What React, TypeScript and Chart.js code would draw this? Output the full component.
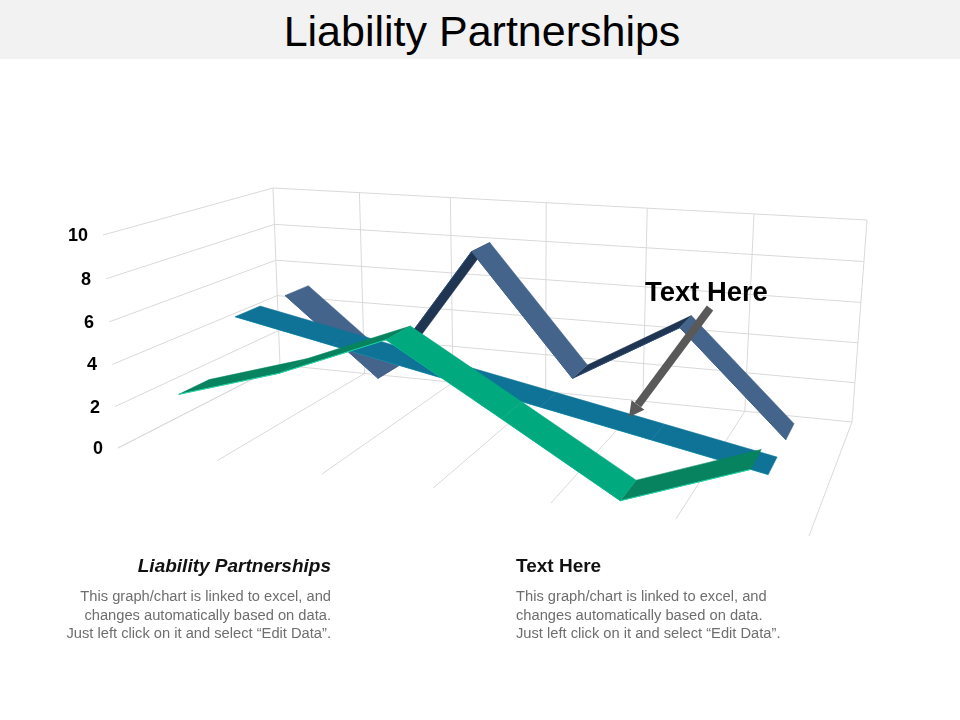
import React, { useEffect, useRef } from 'react';
import { Chart, registerables } from 'chart.js';

Chart.register(...registerables);

const categories = ['1', '2', '3', '4', '5', '6'];
const valueTicks = [0, 2, 4, 6, 8, 10];
const slateValues = [5, 1, 8, 2, 5, 0];
const tealValues = [5, 4, 3, 2, 1, 0];
const greenValues = [2.5, 4, 6, 3, 0, 2];

// box corners on the page: front-left, front-right, back-right, back-left
const floorCorners = [[118, 448], [809, 536], [852, 422], [280, 365]];
const topCorners = [[103, 235], [833, 287], [867, 220], [273, 188]];

const makeHomography = (q: number[][]) => {
  const [[x0, y0], [x1, y1], [x2, y2], [x3, y3]] = q;
  const dx1 = x1 - x2, dx2 = x3 - x2, sx = x0 - x1 + x2 - x3;
  const dy1 = y1 - y2, dy2 = y3 - y2, sy = y0 - y1 + y2 - y3;
  const den = dx1 * dy2 - dx2 * dy1;
  const g = (sx * dy2 - dx2 * sy) / den;
  const h = (dx1 * sy - sx * dy1) / den;
  const a = x1 - x0 + g * x1, b = x3 - x0 + h * x3;
  const d = y1 - y0 + g * y1, e = y3 - y0 + h * y3;
  return (u: number, v: number) => {
    const z = g * u + h * v + 1;
    return { x: (a * u + b * v + x0) / z, y: (d * u + e * v + y0) / z };
  };
};

const floorMap = makeHomography(floorCorners);
const topMap = makeHomography(topCorners);

const project = (u: number, v: number, value: number) => {
  const lo = floorMap(u, v);
  const hi = topMap(u, v);
  const r = value / 10;
  // slight perspective on the height too
  const t = (r * (1 - 0.033)) / (1 - 0.033 * r);
  return { x: lo.x + (hi.x - lo.x) * t, y: lo.y + (hi.y - lo.y) * t };
};

const gridLine = (a: number[], b: number[]) => ({
  type: 'scatter' as const,
  data: [project(a[0], a[1], a[2]), project(b[0], b[1], b[2])],
  showLine: true,
  borderColor: '#d9d9d9',
  borderWidth: 1,
  pointRadius: 0,
});

const buildGrid = () => {
  const lines: any[] = [];
  valueTicks.forEach((t) => {
    lines.push(gridLine([0, 0, t], [0, 1, t])); // left wall
    lines.push(gridLine([0, 1, t], [1, 1, t])); // back wall
  });
  categories.concat('end').forEach((_, i) => {
    const u = i / categories.length;
    lines.push(gridLine([u, 1, 0], [u, 1, 10]));
    lines.push(gridLine([u, 0, 0], [u, 1, 0]));
  });
  return lines;
};

// one ribbon: a flat strip between two depths, one quad for each segment
const buildRibbon = (
  values: number[],
  front: number,
  back: number,
  fallColor: string,
  riseColor: string,
  edgeColor: string,
) => {
  const n = categories.length;
  const rising: any[] = [];
  const falling: any[] = [];
  for (let i = 0; i < n - 1; i++) {
    const u0 = (i + 0.5) / n;
    const u1 = (i + 1.5) / n;
    const isRise = values[i + 1] > values[i];
    const color = isRise ? riseColor : fallColor;
    const quad = [
      project(u0, front, values[i]),
      project(u1, front, values[i + 1]),
      project(u1, back, values[i + 1]),
      project(u0, back, values[i]),
    ];
    const set = {
      type: 'scatter' as const,
      data: [...quad, quad[0]],
      showLine: true,
      fill: 'shape',
      backgroundColor: color,
      borderColor: color,
      borderWidth: 0.5,
      pointRadius: 0,
    };
    (isRise ? rising : falling).push(set);
  }
  const edge = {
    type: 'scatter' as const,
    data: values.map((v, i) => project((i + 0.5) / n, front, v)),
    showLine: true,
    borderColor: edgeColor,
    borderWidth: 1,
    pointRadius: 0,
  };
  return [...rising, edge, ...falling];
};

const overlayPlugin = {
  id: 'overlay',
  afterDatasetsDraw(chart: any) {
    const { ctx, scales } = chart;
    ctx.save();
    ctx.fillStyle = '#000000';
    ctx.font = 'bold 18px "Liberation Sans"';
    ctx.textAlign = 'right';
    ctx.textBaseline = 'middle';
    valueTicks.forEach((t) => {
      const p = project(0, 0, t);
      ctx.fillText(String(t), scales.x.getPixelForValue(p.x) - 15, scales.y.getPixelForValue(p.y) + 1);
    });
    // callout arrow
    const tail = { x: 710, y: 308 };
    const tip = { x: 629, y: 417 };
    const ang = Math.atan2(tip.y - tail.y, tip.x - tail.x);
    const headLen = 15;
    const neck = { x: tip.x - Math.cos(ang) * headLen, y: tip.y - Math.sin(ang) * headLen };
    ctx.strokeStyle = '#595959';
    ctx.lineWidth = 8;
    ctx.beginPath();
    ctx.moveTo(tail.x, tail.y);
    ctx.lineTo(neck.x, neck.y);
    ctx.stroke();
    ctx.fillStyle = '#595959';
    ctx.beginPath();
    ctx.moveTo(tip.x, tip.y);
    ctx.lineTo(neck.x + Math.sin(ang) * 8, neck.y - Math.cos(ang) * 8);
    ctx.lineTo(neck.x - Math.sin(ang) * 8, neck.y + Math.cos(ang) * 8);
    ctx.closePath();
    ctx.fill();
    ctx.restore();
  },
};

const bodyLines = [
  'This graph/chart is linked to excel, and',
  'changes automatically based on data.',
  'Just left click on it and select “Edit Data”.',
];

const font = '"Liberation Sans", Arial, sans-serif';

const Caption: React.FC<{ title: string; italic?: boolean; align: 'left' | 'right'; edge: number }> = ({
  title,
  italic,
  align,
  edge,
}) => {
  const side = align === 'right' ? { left: edge - 400, width: 400 } : { left: edge, width: 400 };
  return (
    <div style={{ position: 'absolute', top: 555, textAlign: align, ...side }}>
      <div
        style={{
          fontWeight: 'bold',
          fontStyle: italic ? 'italic' : 'normal',
          fontSize: 19,
          lineHeight: '22px',
          color: '#111111',
        }}
      >
        {title}
      </div>
      <div style={{ marginTop: 10, fontSize: 14.7, lineHeight: '18.5px', color: '#6e6e6e' }}>
        {bodyLines.map((l) => (
          <div key={l}>{l}</div>
        ))}
      </div>
    </div>
  );
};

export default function App() {
  const chartRef = useRef<HTMLCanvasElement>(null);

  useEffect(() => {
    if (!chartRef.current) return;
    // back to front; chart.js paints the first dataset last
    const layers = [
      ...buildGrid(),
      ...buildRibbon(slateValues, 0.75, 0.92, '#45648c', '#1f3552', '#2c4a75'),
      ...buildRibbon(tealValues, 0.42, 0.58, '#0e7396', '#0e7396', '#22b4c8'),
      ...buildRibbon(greenValues, 0.08, 0.25, '#00a97e', '#07845f', '#1fd6a8'),
    ];
    const chart = new Chart(chartRef.current, {
      type: 'scatter',
      data: { datasets: layers.reverse() },
      options: {
        animation: false,
        responsive: false,
        devicePixelRatio: 1,
        layout: { padding: 0 },
        plugins: { legend: { display: false }, tooltip: { enabled: false } },
        scales: {
          x: { type: 'linear', min: 0, max: 960, display: false },
          y: { type: 'linear', min: 0, max: 720, reverse: true, display: false },
        },
      },
      plugins: [overlayPlugin],
    } as any);
    return () => chart.destroy();
  }, []);

  return (
    <div
      style={{
        position: 'fixed',
        left: 0,
        top: 0,
        width: 960,
        height: 720,
        background: '#ffffff',
        fontFamily: font,
        overflow: 'hidden',
      }}
    >
      <canvas ref={chartRef} width={960} height={720} style={{ position: 'absolute', left: 0, top: 0 }} />
      <div
        style={{
          position: 'absolute',
          left: 0,
          top: 0,
          width: 960,
          height: 59,
          background: '#f2f2f2',
          textAlign: 'center',
          fontSize: 43,
          lineHeight: '63px',
          color: '#000000',
          textIndent: 4,
        }}
      >
        Liability Partnerships
      </div>
      <div
        style={{
          position: 'absolute',
          left: 645,
          top: 276,
          fontSize: 27.4,
          lineHeight: '32px',
          fontWeight: 'bold',
          color: '#000000',
        }}
      >
        Text Here
      </div>
      <Caption title="Liability Partnerships" italic align="right" edge={331} />
      <Caption title="Text Here" align="left" edge={516} />
    </div>
  );
}
